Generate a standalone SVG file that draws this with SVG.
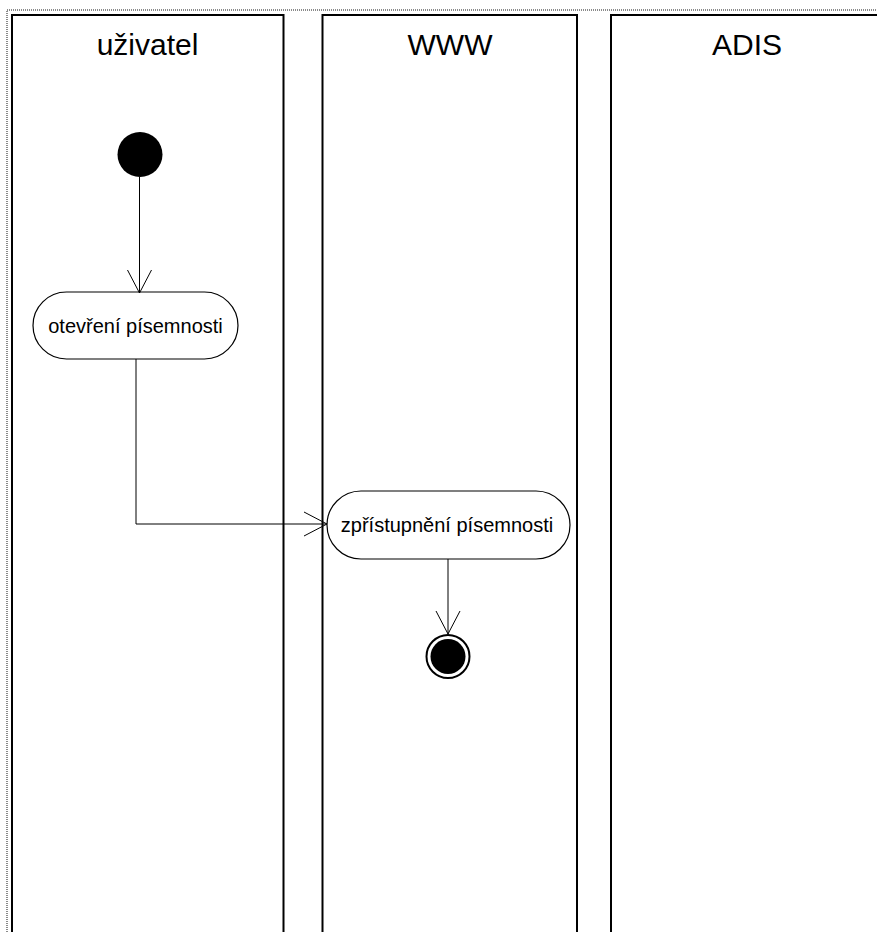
<svg xmlns="http://www.w3.org/2000/svg" width="877" height="932" viewBox="0 0 877 932">
  <defs>
    <style>
      .frame { fill: none; stroke: #8a8a8a; stroke-width: 2; stroke-dasharray: 1 1; }
      .lane { fill: #ffffff; stroke: #000000; stroke-width: 2; }
      .lane-title { font-family: "Liberation Sans", Arial, sans-serif; font-size: 30px; fill: #000000; text-anchor: middle; }
      .action { fill: #ffffff; stroke: #000000; stroke-width: 1.2; }
      .action-text { font-family: "Liberation Sans", Arial, sans-serif; font-size: 20px; fill: #000000; text-anchor: middle; }
      .flow { fill: none; stroke: #000000; stroke-width: 1; }
    </style>
    <marker id="open-arrow" viewBox="0 0 24 26" refX="23" refY="13" markerWidth="24" markerHeight="26" markerUnits="userSpaceOnUse" orient="auto">
      <path d="M0,1 L23,13 L0,25" fill="none" stroke="#000000" stroke-width="1"/>
    </marker>
  </defs>

  <rect width="877" height="932" fill="#ffffff"/>

  <!-- outer dotted frame -->
  <path class="frame" d="M7,932 V10 H877"/>

  <!-- swimlanes -->
  <g id="lane-uzivatel">
    <rect class="lane" x="12" y="15" width="271.5" height="940"/>
    <text class="lane-title" x="147.5" y="55">uživatel</text>
  </g>
  <g id="lane-www">
    <rect class="lane" x="322.5" y="15" width="254.5" height="940"/>
    <text class="lane-title" x="450" y="55">WWW</text>
  </g>
  <g id="lane-adis">
    <rect class="lane" x="611" y="15" width="272" height="940"/>
    <text class="lane-title" x="747" y="55">ADIS</text>
  </g>

  <!-- nodes -->
  <g id="start">
    <circle cx="140" cy="154.5" r="22.5" fill="#000000"/>
  </g>
  <g id="otevreni">
    <rect class="action" x="33" y="292" width="205" height="67" rx="33.5" ry="33.5"/>
    <text class="action-text" x="135.5" y="332.5">otevření písemnosti</text>
  </g>
  <g id="zpristupneni">
    <rect class="action" x="327" y="491" width="243" height="68" rx="34" ry="34"/>
    <text class="action-text" x="447" y="532">zpřístupnění písemnosti</text>
  </g>
  <g id="end">
    <circle cx="448" cy="656.5" r="21.5" fill="#ffffff" stroke="#000000" stroke-width="2"/>
    <circle cx="448" cy="656.5" r="17.5" fill="#000000"/>
  </g>

  <!-- connectors -->
  <g id="connectors">
    <path class="flow" d="M139.5,177 V293" marker-end="url(#open-arrow)"/>
    <path class="flow" d="M136,359 V524 H327" marker-end="url(#open-arrow)"/>
    <path class="flow" d="M448,559 V634" marker-end="url(#open-arrow)"/>
  </g>
</svg>
